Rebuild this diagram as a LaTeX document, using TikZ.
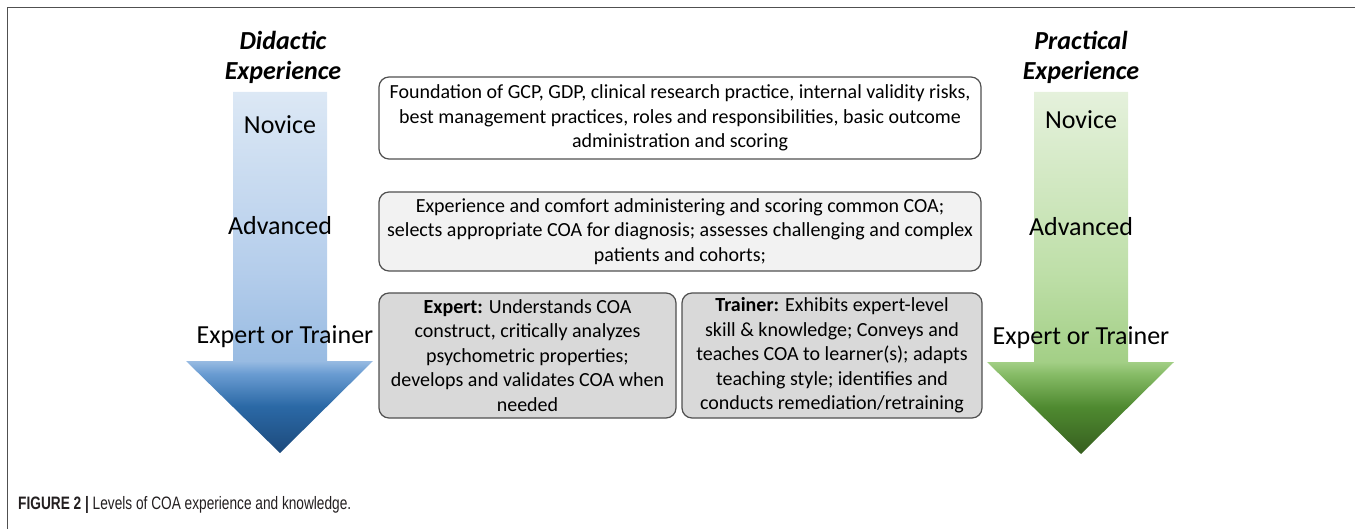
\documentclass[tikz,border=0pt]{standalone}
\usepackage{fontspec}
\setmainfont{Carlito}
\newfontfamily\capfont[FakeStretch=0.76]{Liberation Sans}
\usepackage{tikz}

\definecolor{bluetip}{HTML}{1D4A7C}
\definecolor{bluedark}{HTML}{2B69A6}
\definecolor{bluemid}{HTML}{6A9CD2}
\definecolor{bluehead}{HTML}{98BBE2}
\definecolor{blueshaft}{HTML}{B4CDEB}
\definecolor{bluetop}{HTML}{DCE8F5}
\definecolor{greentip}{HTML}{365E1F}
\definecolor{greendark}{HTML}{4F8A30}
\definecolor{greenmid}{HTML}{86BB66}
\definecolor{greenhead}{HTML}{A3CF86}
\definecolor{greenshaft}{HTML}{BEDFA8}
\definecolor{greentop}{HTML}{E5F1DC}
\definecolor{boxline}{HTML}{505050}
\definecolor{capgray}{HTML}{231F20}

\pgfdeclareverticalshading{didactic}{100bp}{color(0bp)=(bluetip); color(25bp)=(bluetip);
  color(31.5bp)=(bluedark); color(36bp)=(bluemid); color(37.75bp)=(bluehead);
  color(50bp)=(blueshaft); color(75bp)=(bluetop); color(100bp)=(bluetop)}
\pgfdeclareverticalshading{practical}{100bp}{color(0bp)=(greentip); color(25bp)=(greentip);
  color(31.5bp)=(greendark); color(36bp)=(greenmid); color(37.75bp)=(greenhead);
  color(50bp)=(greenshaft); color(75bp)=(greentop); color(100bp)=(greentop)}

\begin{document}
\begin{tikzpicture}[x=1pt,y=-1pt,
  level/.style={font=\fontsize{26}{30}\selectfont},
  head/.style={font=\fontsize{26}{30}\selectfont\bfseries\itshape,align=center},
  stage/.style={draw=boxline,line width=1.2pt,rounded corners=10pt,align=center,
    font=\fontsize{20}{24.5}\selectfont,inner sep=0pt}]

\useasboundingbox (0,0) rectangle (1355,529);
\draw[boxline,line width=1pt] (7,529) -- (7,8) -- (1355,8);

% arrows
\shade[shading=didactic] (233,92) -- (327,92) -- (327,361) -- (373,361) -- (280,453)
  -- (186,361) -- (233,361) -- cycle;
\shade[shading=practical] (1034,92) -- (1128,92) -- (1128,362) -- (1174,362) -- (1081,454)
  -- (987,362) -- (1034,362) -- cycle;

\node[head] (did) at (283,57) {Didactic\\Experience};
\node[head] (pra) at (1081,57) {Practical\\Experience};

\node[level] (novl) at (280,125) {Novice};
\node[level] (advl) at (280,226) {Advanced};
\node[level] (expl) at (285,337) {Expert or Trainer};
\node[level] (novr) at (1081,120) {Novice};
\node[level] (advr) at (1081,227) {Advanced};
\node[level] (expr) at (1081,338) {Expert or Trainer};

% stage boxes
\node[stage,fill=white,minimum width=602pt,minimum height=82pt] (found) at (680,118)
  {Foundation of GCP, GDP, clinical research practice, internal validity risks,\\
   best management practices, roles and responsibilities, basic outcome\\
   administration and scoring};
\node[stage,fill=black!5,minimum width=602pt,minimum height=79pt] (adv) at (680,231.5)
  {Experience and comfort administering and scoring common COA;\\
   selects appropriate COA for diagnosis; assesses challenging and complex\\
   patients and cohorts;};
\node[stage,fill=black!15,minimum width=297pt,minimum height=125pt] (expert) at (527.5,355.5)
  {\textbf{Expert:} Understands COA\\ construct, critically analyzes\\
   psychometric properties;\\ develops and validates COA when\\ needed};
\node[stage,fill=black!15,minimum width=300pt,minimum height=125pt] (trainer) at (832,355.5)
  {\textbf{Trainer:} Exhibits expert-level\\ skill \& knowledge; Conveys and\\
   teaches COA to learner(s); adapts\\ teaching style; identifies and\\
   conducts remediation/retraining};

\node[anchor=west,text=capgray,inner sep=0pt,font=\capfont\fontsize{18}{20}\selectfont] (cap) at (18,505)
  {\textbf{FIGURE 2 |} Levels of COA experience and knowledge.};

\end{tikzpicture}
\end{document}
